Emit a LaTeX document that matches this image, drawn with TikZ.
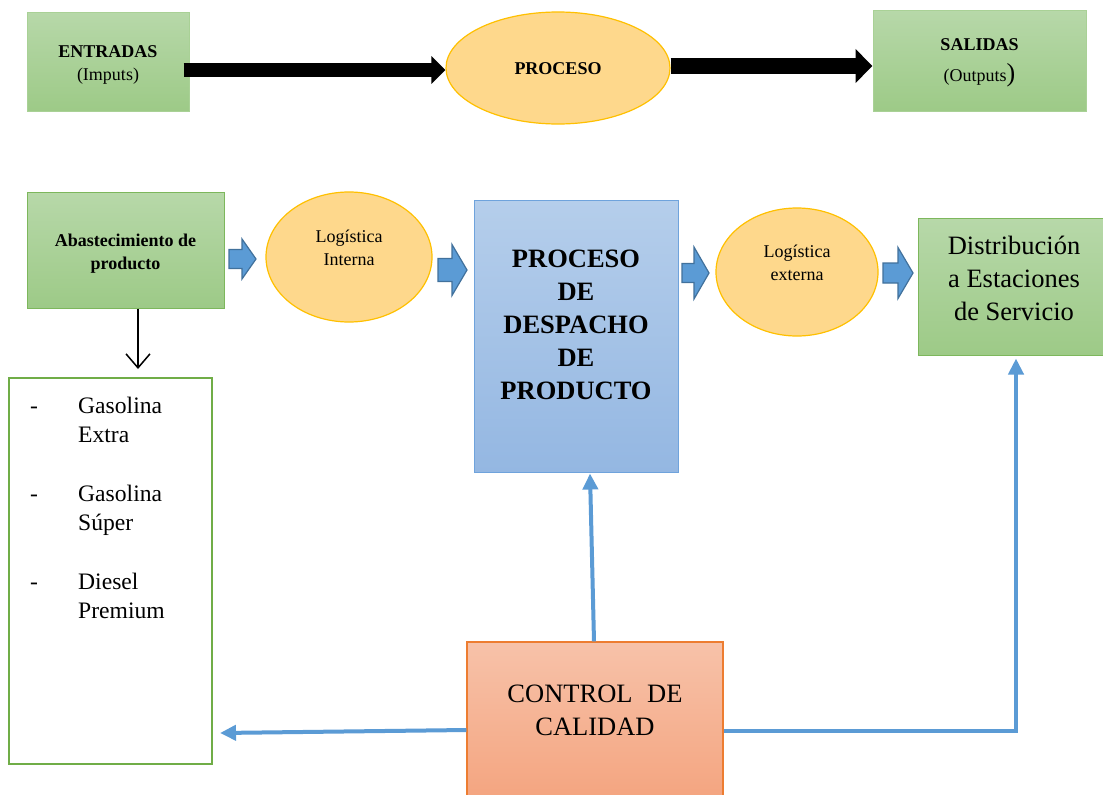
\documentclass[tikz,border=0pt]{standalone}
\usepackage{fontspec}
\setmainfont{Liberation Serif}
\usetikzlibrary{arrows.meta,shapes.geometric}

\definecolor{grTop}{HTML}{B7D8A9}
\definecolor{grBot}{HTML}{9DCA87}
\definecolor{grEdge}{HTML}{7DB75C}
\definecolor{grSoft}{HTML}{A9D196}
\definecolor{ovFill}{HTML}{FED88C}
\definecolor{ovEdge}{HTML}{FFC000}
\definecolor{blTop}{HTML}{B5CEEB}
\definecolor{blBot}{HTML}{94B7E2}
\definecolor{blEdge}{HTML}{6FA3DC}
\definecolor{orTop}{HTML}{F7C2A9}
\definecolor{orBot}{HTML}{F4A47F}
\definecolor{orEdge}{HTML}{ED7D31}
\definecolor{arFill}{HTML}{5B9BD5}
\definecolor{arEdge}{HTML}{41719C}
\definecolor{lsEdge}{HTML}{70AD47}

\tikzset{
  greenbox/.style={rectangle, inner sep=0pt, top color=grTop, bottom color=grBot, draw=grEdge, line width=1pt},
  softbox/.style={rectangle, inner sep=0pt, top color=grTop, bottom color=grBot, draw=grSoft, line width=1pt},
  oval/.style={ellipse, inner sep=0pt, fill=ovFill, draw=ovEdge, line width=1.2pt},
  bluebox/.style={rectangle, inner sep=0pt, top color=blTop, bottom color=blBot, draw=blEdge, line width=1pt},
  ctrlbox/.style={rectangle, inner sep=0pt, top color=orTop, bottom color=orBot, draw=orEdge, line width=1.2pt},
  listbox/.style={rectangle, inner sep=0pt, fill=white, draw=lsEdge, line width=2pt},
  smalltxt/.style={font=\fontsize{18}{23}\selectfont, align=center, inner sep=0pt},
  bigtxt/.style={font=\fontsize{26.5}{33}\selectfont, align=center, inner sep=0pt},
  listtxt/.style={font=\fontsize{23.6}{29}\selectfont, inner sep=0pt, anchor=base west},
  thickarrow/.style={line width=#1, black},
  bluelink/.style={draw=arFill, line width=4pt, -{Triangle[length=16pt,width=15pt]}},
  blockarrow/.style={fill=arFill, draw=arEdge, line width=1.2pt, line join=miter},
}

% block arrow: x start, x tip, y centre, x where the head begins, shaft half width, head half width
\newcommand\blockarr[6]{%
  \filldraw[blockarrow] (#1,#3-#5) -- (#4,#3-#5) -- (#4,#3-#6) -- (#2,#3)
    -- (#4,#3+#6) -- (#4,#3+#5) -- (#1,#3+#5) -- cycle;}

\begin{document}
\begin{tikzpicture}[x=1pt, y=-1pt]
\clip (0,0) rectangle (1103,795);
\fill[white] (0,0) rectangle (1103,795);

% ---- general scheme: inputs, process, outputs ----
\node[softbox, minimum width=162pt, minimum height=99pt] (entr) at (108,61.5) {};
\node[smalltxt] at (108,65) {\textbf{ENTRADAS}\\(Imputs)};

\node[oval, minimum width=224pt, minimum height=112pt] (proc) at (558,68) {};
\node[smalltxt] at (558,69) {\textbf{PROCESO}};

\node[softbox, minimum width=213pt, minimum height=101pt] (sal) at (979.5,60.5) {};
\node[smalltxt, font=\fontsize{18}{31}\selectfont] at (979.5,63) {\textbf{SALIDAS}\\(Outputs{\fontsize{26}{26}\selectfont )}};

\draw[thickarrow=14pt, -{Triangle[length=14pt,width=27pt]}]
  ([xshift=-6pt,yshift=-8.5pt]entr.east) -- ([yshift=-2pt]proc.west);
\draw[thickarrow=16pt, -{Triangle[length=17pt,width=33pt]}]
  ([yshift=2pt]proc.east) -- ([yshift=-5.5pt]sal.west);

% ---- dispatch process chain ----
\node[greenbox, minimum width=197pt, minimum height=116pt] (abast) at (125.5,250) {};
\node[smalltxt] at (125.5,254) {\textbf{Abastecimiento de}\\\textbf{producto}};

\node[oval, minimum width=166pt, minimum height=130pt] (lint) at (349,257) {};
\node[smalltxt] at (349,248) {Logística\\Interna};

\node[bluebox, minimum width=204pt, minimum height=272pt] (desp) at (576,336) {};
\node[bigtxt] at (576,325) {\textbf{PROCESO}\\\textbf{DE}\\\textbf{DESPACHO}\\\textbf{DE}\\\textbf{PRODUCTO}};

\node[oval, minimum width=162pt, minimum height=128pt] (lext) at (797,272) {};
\node[smalltxt] at (797,263) {Logística\\externa};

\node[greenbox, minimum width=196pt, minimum height=137pt] (dist) at (1016,286.5) {};
\node[bigtxt] at (1014,278) {Distribución\\a Estaciones\\de Servicio};

\blockarr{229}{256}{259}{242}{9.5}{20}
\blockarr{438}{467}{270}{452}{11.5}{25.5}
\blockarr{682}{709}{273}{694}{9.5}{26}
\blockarr{883}{913}{273}{898}{10}{25.5}

% ---- products ----
\node[listbox, minimum width=203pt, minimum height=386pt] (list) at (110.5,571) {};
\node[listtxt] (d1) at (30,413) {-};
\node[listtxt] (g1) at (78,413) {Gasolina};
\node[listtxt] (g1b) at (78,442) {Extra};
\node[listtxt] (d2) at (30,501) {-};
\node[listtxt] (g2) at (78,501) {Gasolina};
\node[listtxt] (g2b) at (78,530) {Súper};
\node[listtxt] (d3) at (30,589) {-};
\node[listtxt] (g3) at (78,589) {Diesel};
\node[listtxt] (g3b) at (78,618) {Premium};

\draw[black, line width=1.5pt, -{Straight Barb[length=14pt,width=24pt]}]
  ([xshift=12.5pt]abast.south) -- ([xshift=27.5pt,yshift=8pt]list.north);

% ---- quality control ----
\node[ctrlbox, minimum width=256pt, minimum height=160pt] (ctrl) at (595,722) {};
\node[bigtxt] at (595,710) {CONTROL\hspace{0.55em}DE\\CALIDAD};

\coordinate (lstin) at (220,733);
\draw[bluelink] ([xshift=-1pt]ctrl.north) -- ([xshift=14pt,yshift=-1pt]desp.south);
\draw[bluelink] ([yshift=-8pt]ctrl.west) -- (lstin);
\draw[bluelink] ([yshift=-9pt]ctrl.east) -| ([yshift=-3pt]dist.south);
\end{tikzpicture}
\end{document}
